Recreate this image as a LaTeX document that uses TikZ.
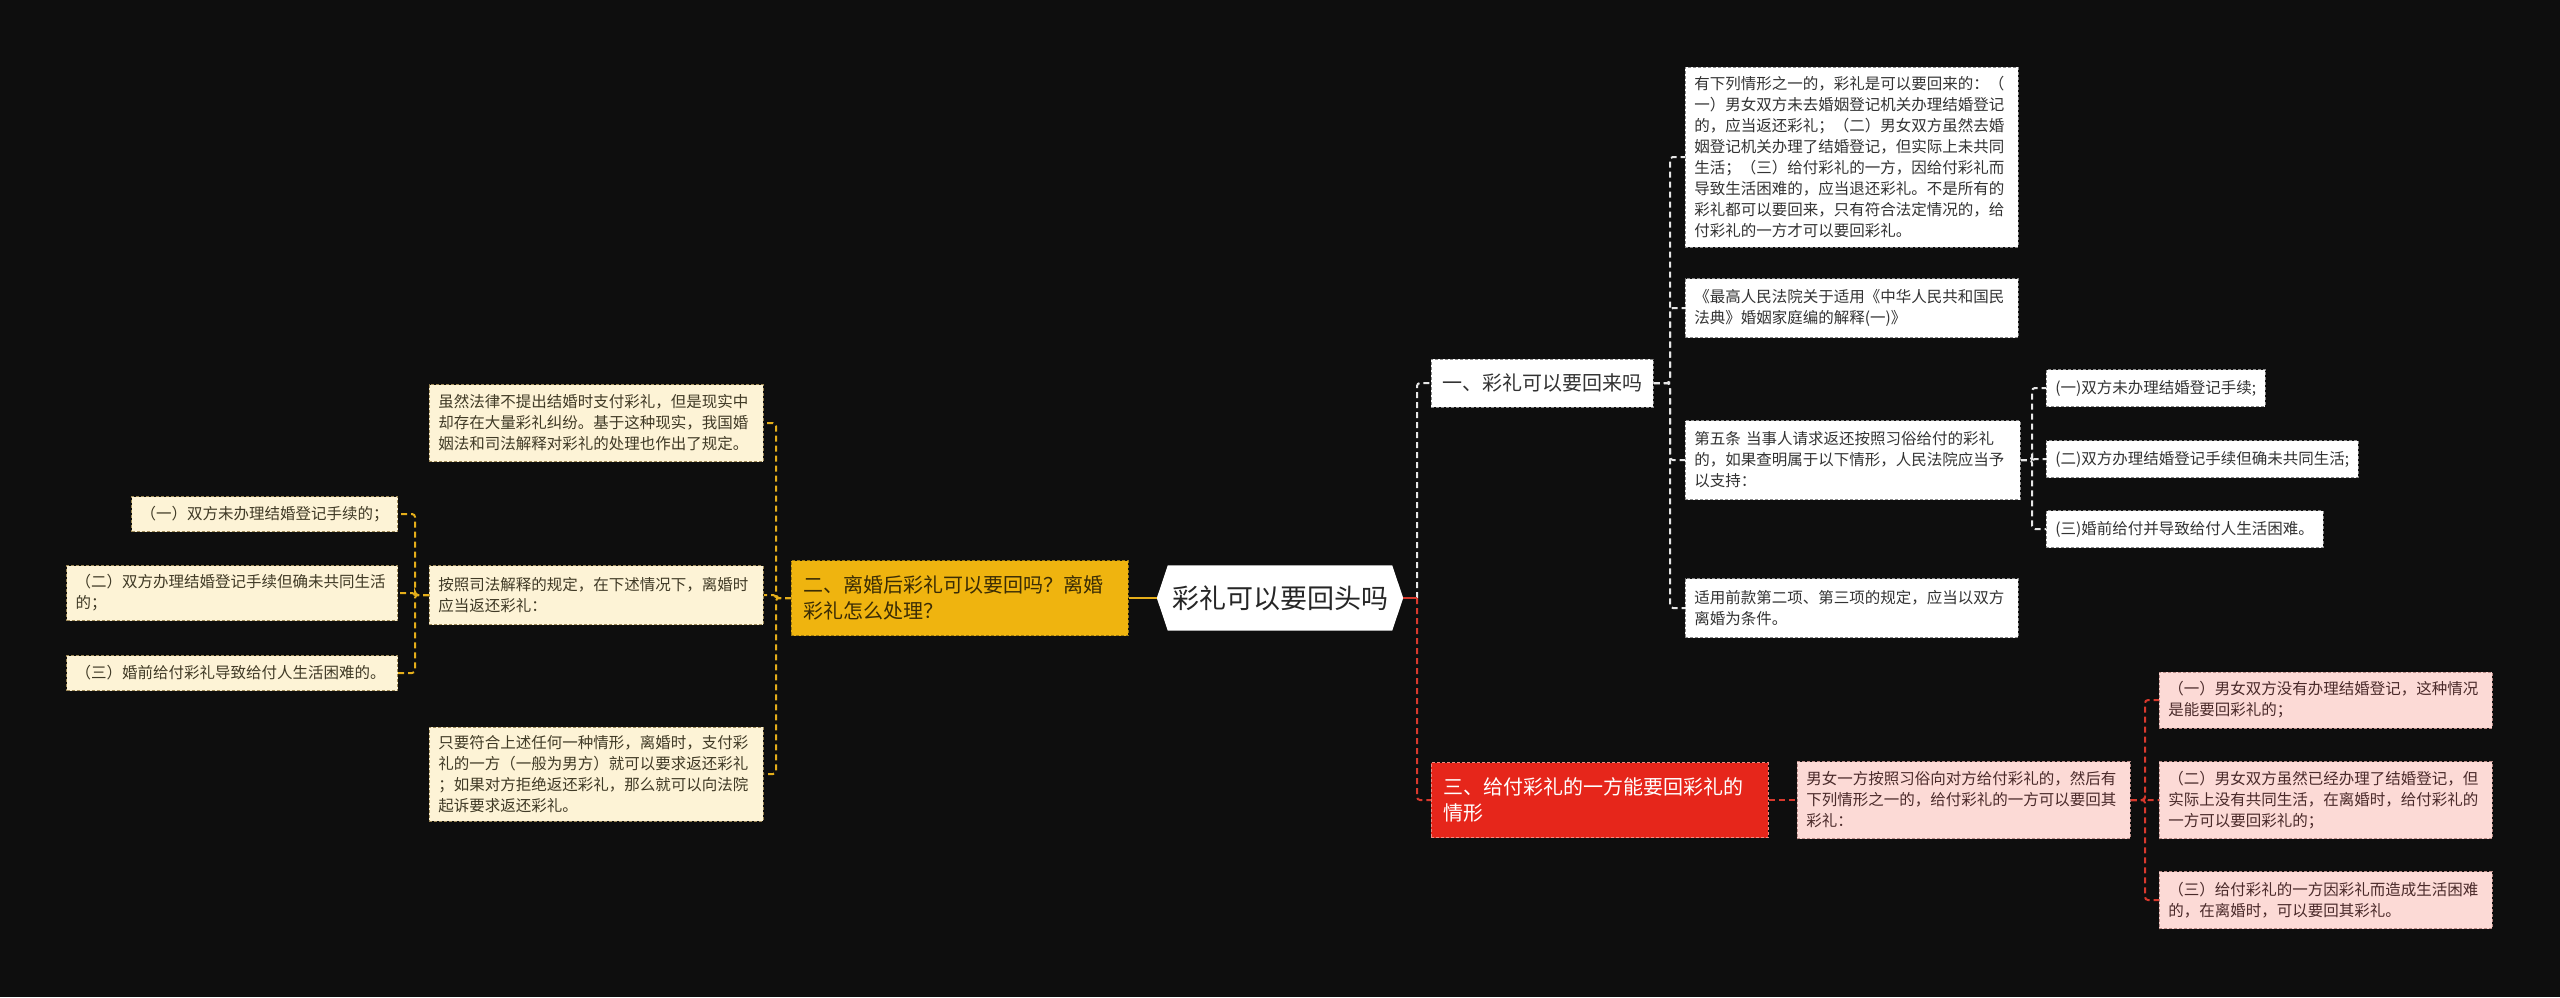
\documentclass[tikz,border=0pt]{standalone}
\usepackage{fontspec}
\setmainfont{Noto Sans CJK SC}
\definecolor{bgcol}{HTML}{0E0E0E}
\definecolor{ylw}{HTML}{EFB40F}
\definecolor{ylwline}{HTML}{E5AE1A}
\definecolor{ylwborder}{HTML}{9C7A10}
\definecolor{ylwtext}{HTML}{3A2C05}
\definecolor{cream}{HTML}{FDF3D6}
\definecolor{creamborder}{HTML}{9E8A58}
\definecolor{creamtext}{HTML}{403A26}
\definecolor{rd}{HTML}{E6261B}
\definecolor{rdline}{HTML}{D8392D}
\definecolor{rdborder}{HTML}{F08A80}
\definecolor{pink}{HTML}{FCDAD6}
\definecolor{pinkborder}{HTML}{B88A86}
\definecolor{pinktext}{HTML}{4A2A2A}
\definecolor{wline}{HTML}{E6E6E6}
\definecolor{wborder}{HTML}{8C8C8C}
\definecolor{wtext}{HTML}{333333}
\pgfdeclarelayer{back}
\pgfsetlayers{back,main}
\begin{document}
\begin{tikzpicture}[x=1pt,y=-1pt,
  box/.style={rectangle, anchor=west, align=left, inner xsep=9pt, inner ysep=0pt,
    line width=0.9pt, dash pattern=on 3pt off 2pt,
    font=\fontsize{15.5pt}{21pt}\selectfont},
  wbox/.style={box, fill=white, draw=wborder, text=wtext},
  cbox/.style={box, fill=cream, draw=creamborder, text=creamtext},
  pbox/.style={box, fill=pink, draw=pinkborder, text=pinktext},
  topic/.style={rectangle, anchor=west, align=left, inner xsep=12pt, inner ysep=0pt,
    line width=0.9pt, dash pattern=on 3pt off 2pt,
    font=\fontsize{20pt}{26pt}\selectfont},
  conn/.style={line width=2pt, dash pattern=on 6pt off 4pt, rounded corners=3pt},
  yconn/.style={conn, draw=ylwline},
  wconn/.style={conn, draw=wline},
  rconn/.style={conn, draw=rdline}
]
\begin{pgfonlayer}{back}
  \fill[bgcol] (0,0) rectangle (2560,997);
\end{pgfonlayer}
\useasboundingbox (0,0) rectangle (2560,997);

% central node
\node[minimum width=246pt, minimum height=65pt, inner sep=0pt,
      font=\fontsize{27pt}{32pt}\selectfont, text=black!85] (c) at (1280,598) {彩礼可以要回头吗};
\begin{pgfonlayer}{back}
  \fill[white] (c.west) -- ([xshift=11pt]c.north west) -- ([xshift=-11pt]c.north east)
     -- (c.east) -- ([xshift=-11pt]c.south east) -- ([xshift=11pt]c.south west) -- cycle;
\end{pgfonlayer}

% ---------- left (yellow) branch ----------
\node[topic, fill=ylw, draw=ylwborder, text=ylwtext, text width=313pt, minimum height=75pt] (n2) at (791,598)
  {二、离婚后彩礼可以要回吗？离婚\\彩礼怎么处理？};

\node[cbox, text width=316pt, minimum height=77pt] (y1) at (429,423)
  {虽然法律不提出结婚时支付彩礼，但是现实中\\却存在大量彩礼纠纷。基于这种现实，我国婚\\姻法和司法解释对彩礼的处理也作出了规定。};
\node[cbox, text width=316pt, minimum height=59pt] (y2) at (429,595)
  {按照司法解释的规定，在下述情况下，离婚时\\应当返还彩礼：};
\node[cbox, text width=316pt, minimum height=94pt] (y3) at (429,774)
  {只要符合上述任何一种情形，离婚时，支付彩\\礼的一方（一般为男方）就可以要求返还彩礼\\；如果对方拒绝返还彩礼，那么就可以向法院\\起诉要求返还彩礼。};

\node[cbox, anchor=east, minimum height=35pt] (y2a) at (398,514)
  {（一）双方未办理结婚登记手续的；};
\node[cbox, anchor=east, text width=313pt, minimum height=55pt] (y2b) at (398,593)
  {（二）双方办理结婚登记手续但确未共同生活\\的；};
\node[cbox, anchor=east, text width=313pt, minimum height=35pt] (y2c) at (398,673)
  {（三）婚前给付彩礼导致给付人生活困难的。};

% ---------- right top (white) branch ----------
\node[topic, fill=white, draw=wborder, text=wtext, minimum height=48pt, inner xsep=11pt] (n1) at (1431,383)
  {一、彩礼可以要回来吗};

\node[wbox, text width=315pt, minimum height=180pt] (r1) at (1685,157)
  {有下列情形之一的，彩礼是可以要回来的：（\\一）男女双方未去婚姻登记机关办理结婚登记\\的，应当返还彩礼；（二）男女双方虽然去婚\\姻登记机关办理了结婚登记，但实际上未共同\\生活；（三）给付彩礼的一方，因给付彩礼而\\导致生活困难的，应当退还彩礼。不是所有的\\彩礼都可以要回来，只有符合法定情况的，给\\付彩礼的一方才可以要回彩礼。};
\node[wbox, text width=315pt, minimum height=59pt] (r2) at (1685,308)
  {《最高人民法院关于适用《中华人民共和国民\\法典》婚姻家庭编的解释(一)》};
\node[wbox, text width=317pt, minimum height=79pt] (r3) at (1685,460)
  {第五条 当事人请求返还按照习俗给付的彩礼\\的，如果查明属于以下情形，人民法院应当予\\以支持：};
\node[wbox, text width=315pt, minimum height=59pt] (r4) at (1685,608)
  {适用前款第二项、第三项的规定，应当以双方\\离婚为条件。};

\node[wbox, minimum height=37pt] (r3a) at (2046,388) {(一)双方未办理结婚登记手续;};
\node[wbox, minimum height=37pt] (r3b) at (2046,459) {(二)双方办理结婚登记手续但确未共同生活;};
\node[wbox, minimum height=37pt] (r3c) at (2046,529) {(三)婚前给付并导致给付人生活困难。};

% ---------- right bottom (red) branch ----------
\node[topic, fill=rd, draw=rdborder, text=white, text width=313pt, minimum height=75pt] (n3) at (1431,800)
  {三、给付彩礼的一方能要回彩礼的\\情形};

\node[pbox, text width=315pt, minimum height=77pt] (p0) at (1797,800)
  {男女一方按照习俗向对方给付彩礼的，然后有\\下列情形之一的，给付彩礼的一方可以要回其\\彩礼：};
\node[pbox, text width=315pt, minimum height=56pt] (p1) at (2159,700)
  {（一）男女双方没有办理结婚登记，这种情况\\是能要回彩礼的；};
\node[pbox, text width=315pt, minimum height=77pt] (p2) at (2159,800)
  {（二）男女双方虽然已经办理了结婚登记，但\\实际上没有共同生活，在离婚时，给付彩礼的\\一方可以要回彩礼的；};
\node[pbox, text width=315pt, minimum height=57pt] (p3) at (2159,900)
  {（三）给付彩礼的一方因彩礼而造成生活困难\\的，在离婚时，可以要回其彩礼。};

% ---------- junction coordinates ----------
\coordinate (jY) at (776,598);
\coordinate (jY2) at (415,595);
\coordinate (jR) at (1417,598);
\coordinate (j1) at (1670,383);
\coordinate (j3) at (2032,460);
\coordinate (jP) at (2145,800);

% ---------- connectors ----------
\draw[ylwline, line width=2.5pt] (c.west) -- (n2.east);
\draw[yconn] (n2.west) -- (jY) |- (y1.east);
\draw[yconn] (n2.west) -- (jY) |- (y2.east);
\draw[yconn] (n2.west) -- (jY) |- (y3.east);
\draw[yconn] (y2.west) -- (jY2) |- (y2a.east);
\draw[yconn] (y2.west) -- (jY2) |- (y2b.east);
\draw[yconn] (y2.west) -- (jY2) |- (y2c.east);

\draw[wconn] (jR) |- (n1.west);
\draw[rconn] (jR) |- (n3.west);
\draw[rdline, line width=2.5pt] (c.east) -- (jR);

\draw[wconn] (n1.east) -- (j1) |- (r1.west);
\draw[wconn] (n1.east) -- (j1) |- (r2.west);
\draw[wconn] (n1.east) -- (j1) |- (r3.west);
\draw[wconn] (n1.east) -- (j1) |- (r4.west);
\draw[wconn] (r3.east) -- (j3) |- (r3a.west);
\draw[wconn] (r3.east) -- (j3) |- (r3b.west);
\draw[wconn] (r3.east) -- (j3) |- (r3c.west);

\draw[rconn] (n3.east) -- (p0.west);
\draw[rconn] (p0.east) -- (jP) |- (p1.west);
\draw[rconn] (p0.east) -- (jP) |- (p2.west);
\draw[rconn] (p0.east) -- (jP) |- (p3.west);
\end{tikzpicture}
\end{document}
